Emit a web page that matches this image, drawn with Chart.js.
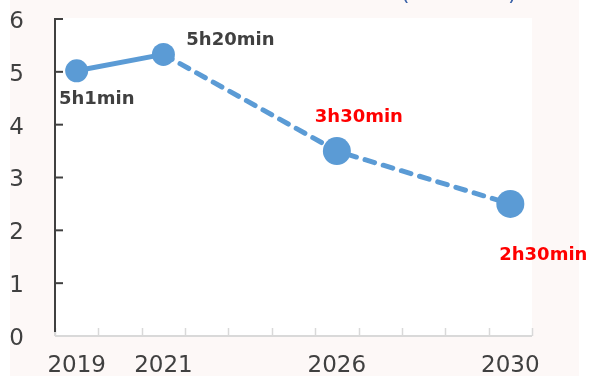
<!DOCTYPE html>
<html>
<head>
<meta charset="utf-8">
<script src="https://cdn.jsdelivr.net/npm/chart.js@4"></script>
<style>
  html, body { margin: 0; padding: 0; background: #ffffff; }
  #wrap { width: 597px; height: 376px; position: relative; }
</style>
</head>
<body>
<div id="wrap"><canvas id="c" width="597" height="376"></canvas></div>
<script>
// ---- data ----
const categories = ['2019', '', '2021', '', '', '', '2026', '', '', '', '2030'];
const values = [5.02, null, 5.33, null, null, null, 3.5, null, null, null, 2.5];
const valueLabels = ['5h1min', null, '5h20min', null, null, null, '3h30min', null, null, null, '2h30min'];
const yTicks = [0, 1, 2, 3, 4, 5, 6];

// ---- style ----
const BLUE = '#5b9bd5';
const TEXT = '#404040';
const labelStyle = {
  0: { dx: 20, dy: 29, color: '#404040' },
  2: { dx: 67, dy: -14, color: '#404040' },
  6: { dx: 22, dy: -34, color: '#ff0000' },
  10: { dx: 33, dy: 51, color: '#ff0000' }
};

const bgPlugin = {
  id: 'bg',
  beforeDraw(chart) {
    const ctx = chart.ctx, a = chart.chartArea;
    ctx.save();
    ctx.fillStyle = '#fdf8f7';
    ctx.fillRect(10, 0, 569, 376);
    ctx.fillStyle = '#ffffff';
    ctx.fillRect(a.left, 18, a.right - a.left, a.bottom - 18);
    // cut-off title parentheses
    ctx.fillStyle = '#3b62a8';
    ctx.font = '22px "DejaVu Sans"';
    ctx.textBaseline = 'alphabetic';
    ctx.textAlign = 'left';
    ctx.fillText('(', 401, 0);
    ctx.fillText(')', 508, 0);
    ctx.restore();
  },
  beforeDatasetsDraw(chart) {
    const ctx = chart.ctx, a = chart.chartArea;
    const xs = chart.scales.x, ys = chart.scales.y;
    ctx.save();
    // x axis
    ctx.strokeStyle = '#d9d9d9';
    ctx.lineWidth = 2;
    const yb = ys.getPixelForValue(0);
    ctx.beginPath();
    ctx.moveTo(a.left, yb);
    ctx.lineTo(a.right, yb);
    ctx.stroke();
    const x0 = xs.getPixelForValue(0), x1 = xs.getPixelForValue(1);
    const step = x1 - x0;
    for (let k = 0; k <= categories.length; k++) {
      const bx = Math.round(x0 - step / 2 + k * step) + 0.5;
      ctx.beginPath();
      ctx.lineWidth = 1.5;
      ctx.moveTo(bx, yb - 8);
      ctx.lineTo(bx, yb);
      ctx.stroke();
    }
    // y axis
    ctx.strokeStyle = '#d9d9d9';
    ctx.lineWidth = 2;
    ctx.beginPath();
    ctx.moveTo(a.left, yb - 4);
    ctx.lineTo(a.left, yb);
    ctx.stroke();
    ctx.strokeStyle = TEXT;
    ctx.beginPath();
    ctx.moveTo(a.left, ys.getPixelForValue(6) - 1);
    ctx.lineTo(a.left, yb - 4);
    ctx.stroke();
    yTicks.forEach(v => {
      if (v === 0) return;
      const py = ys.getPixelForValue(v);
      ctx.beginPath();
      ctx.moveTo(a.left, py);
      ctx.lineTo(a.left + 8, py);
      ctx.stroke();
    });
    ctx.restore();
  },
  afterDatasetsDraw(chart) {
    const ctx = chart.ctx;
    const meta = chart.getDatasetMeta(0);
    ctx.save();
    ctx.font = 'bold 18px "DejaVu Sans"';
    ctx.textAlign = 'center';
    ctx.textBaseline = 'middle';
    valueLabels.forEach((t, i) => {
      if (!t) return;
      const el = meta.data[i];
      const s = labelStyle[i];
      ctx.fillStyle = s.color;
      ctx.fillText(t, el.x + s.dx, el.y + s.dy);
    });
    ctx.restore();
  }
};

new Chart(document.getElementById('c'), {
  type: 'line',
  data: {
    labels: categories,
    datasets: [{
      data: values,
      borderColor: BLUE,
      backgroundColor: BLUE,
      borderWidth: 5,
      borderCapStyle: 'round',
      spanGaps: true,
      pointRadius: ctx => (ctx.dataIndex <= 2 ? 11.5 : 14),
      pointHoverRadius: ctx => (ctx.dataIndex <= 2 ? 11.5 : 14),
      pointBackgroundColor: BLUE,
      pointBorderColor: BLUE,
      pointBorderWidth: 0,
      segment: {
        borderDash: ctx => (ctx.p0DataIndex >= 2 ? [10, 9] : undefined)
      },
      tension: 0
    }]
  },
  options: {
    responsive: false,
    animation: false,
    events: [],
    layout: { padding: { left: 0, right: 65, top: 19, bottom: 0 } },
    plugins: { legend: { display: false }, tooltip: { enabled: false }, title: { display: false } },
    scales: {
      x: {
        type: 'category',
        offset: true,
        grid: { display: false, drawTicks: false },
        border: { display: false },
        ticks: {
          autoSkip: false, maxRotation: 0,
          color: TEXT,
          font: { family: 'DejaVu Sans', size: 23 },
          padding: 16
        },
        afterFit(s) { s.height = 40; s.paddingLeft = 0; s.paddingRight = 0; }
      },
      y: {
        min: 0, max: 6,
        grid: { display: false, drawTicks: false },
        border: { display: false },
        ticks: {
          stepSize: 1,
          color: TEXT,
          font: { family: 'DejaVu Sans', size: 23 },
          padding: 31,
          labelOffset: 3
        },
        afterFit(s) { s.width = 55; s.paddingTop = 0; s.paddingBottom = 0; }
      }
    }
  },
  plugins: [bgPlugin]
});
</script>
</body>
</html>
